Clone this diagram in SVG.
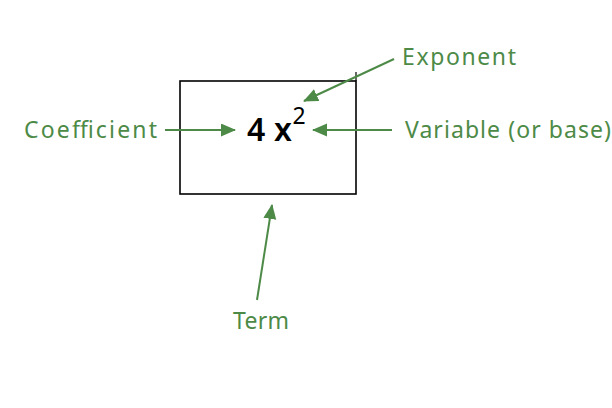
<svg xmlns="http://www.w3.org/2000/svg" width="612" height="408" viewBox="0 0 612 408">
<style>
.lbl{font-family:"Noto Sans","Liberation Sans",sans-serif;font-size:23px;fill:#4d8a47}
.con{stroke:#4d8a47;stroke-width:2;fill:none}
</style>
<defs>
<marker id="ah" markerUnits="userSpaceOnUse" markerWidth="16" markerHeight="14" refX="14" refY="6.5" orient="auto">
<path d="M0,0 L15,6.5 L0,13 z" fill="#4d8a47"/>
</marker>
</defs>
<rect width="612" height="408" fill="#fff"/>
<g id="term-box">
<rect x="180" y="81" width="176" height="113" fill="none" stroke="#000" stroke-width="1.6"/>
<line x1="356" y1="72" x2="356" y2="81" stroke="#000" stroke-width="1.2"/>
<text x="247" y="141" font-family="'Noto Sans','Liberation Sans',sans-serif" font-size="32" font-weight="600" fill="#000" textLength="45" lengthAdjust="spacing">4x</text>
<text x="292.5" y="124" font-family="'Noto Sans','Liberation Sans',sans-serif" font-size="23" fill="#000">2</text>
</g>
<g id="coefficient"><text class="lbl" x="24" y="138" textLength="133" lengthAdjust="spacing">Coefficient</text></g>
<g id="exponent"><text class="lbl" x="402" y="65" textLength="114" lengthAdjust="spacing">Exponent</text></g>
<g id="variable"><text class="lbl" x="405" y="138" textLength="206" lengthAdjust="spacing">Variable (or base)</text></g>
<g id="term"><text class="lbl" x="233" y="329" textLength="56" lengthAdjust="spacing">Term</text></g>
<g id="connectors">
<line class="con" x1="165" y1="130" x2="235" y2="130" marker-end="url(#ah)"/>
<line class="con" x1="394" y1="59" x2="304" y2="101" marker-end="url(#ah)"/>
<line class="con" x1="392" y1="130" x2="313" y2="130" marker-end="url(#ah)"/>
<line class="con" x1="257" y1="300" x2="272" y2="205" marker-end="url(#ah)"/>
</g>
</svg>
